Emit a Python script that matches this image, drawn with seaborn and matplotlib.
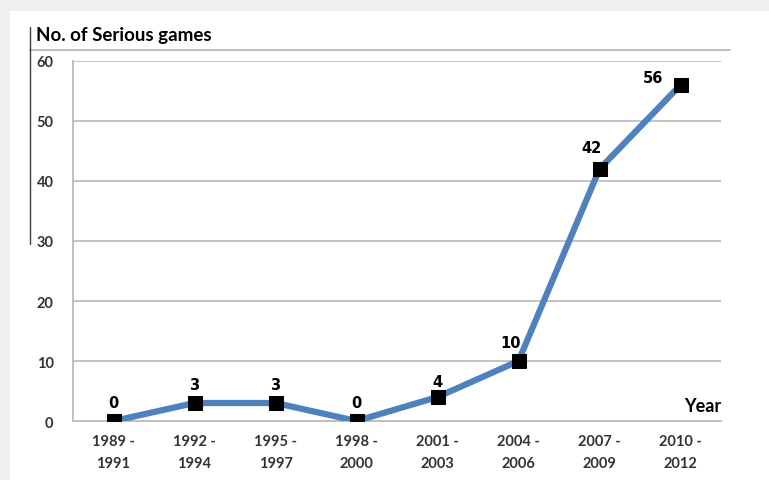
import numpy as np
import pandas as pd
import seaborn as sns
import matplotlib.pyplot as plt
from matplotlib.patches import Rectangle

# Data
periods = ["1989 -\n1991", "1992 -\n1994", "1995 -\n1997", "1998 -\n2000",
           "2001 -\n2003", "2004 -\n2006", "2007 -\n2009", "2010 -\n2012"]
games = [0, 3, 3, 0, 4, 10, 42, 56]
y_ticks = [0, 10, 20, 30, 40, 50, 60]

df = pd.DataFrame({"pos": np.arange(len(periods)), "games": games})

sns.set_theme(style="white")
plt.rcParams["font.family"] = ["Lato", "DejaVu Sans"]

fig = plt.figure(figsize=(7.69, 4.81), dpi=100, facecolor="#efefef")
# white card inside the grey screenshot frame
fig.patches.append(Rectangle((10 / 769, 0), 1, 1 - 12 / 481, transform=fig.transFigure,
                             facecolor="white", edgecolor="none", zorder=-5))

ax = fig.add_axes([73 / 769, 1 - 422 / 481, (721 - 73) / 769, (422 - 62) / 481])
ax.set_facecolor("none")

sns.lineplot(data=df, x="pos", y="games", ax=ax, color="#4F81BD", linewidth=4.5,
             marker="s", markersize=10, markerfacecolor="black", markeredgecolor="black",
             zorder=3)

# data labels
label_offsets = [(0, 8), (0, 8), (0, 8), (0, 8), (0, 6), (-6, 8), (-6, 10), (-20, 0)]
for (x, y), off in zip(zip(df["pos"], df["games"]), label_offsets):
    ax.annotate(str(y), (x, y), xytext=off, textcoords="offset points",
                ha="center", va="bottom", fontsize=10.5, fontweight="bold",
                family="DejaVu Sans", color="black")

ax.set_xlim(-0.5, len(periods) - 0.5)
ax.set_ylim(0, 60)
ax.set_yticks(y_ticks)
ax.set_yticklabels([str(v) for v in y_ticks], fontsize=10.5, fontweight="bold", color="#333333")
ax.set_xticks(df["pos"])
ax.set_xticklabels(periods, fontsize=10.5, fontweight="bold", color="#333333", linespacing=1.75)
ax.set_xticks(np.arange(-0.5, len(periods)), minor=True)
ax.tick_params(axis="x", which="major", length=0, pad=9)
ax.tick_params(axis="x", which="minor", length=5, width=1.3, color="#bfbfbf", direction="out")
ax.tick_params(axis="y", length=6, width=1.3, color="#bfbfbf", direction="out", pad=8)

ax.grid(axis="y", color="#c4c4c4", linewidth=1.4)
ax.set_axisbelow(True)
for side in ["top", "right"]:
    ax.spines[side].set_visible(False)
for side in ["left", "bottom"]:
    ax.spines[side].set_color("#bfbfbf")
    ax.spines[side].set_linewidth(1.4)

ax.set_xlabel("")
ax.set_ylabel("")
ax.text(1.0, 0.02, "Year", transform=ax.transAxes, ha="right", va="bottom",
        fontsize=13, fontweight="bold", color="black")

# title and frame lines
fig.text(36 / 769, 1 - 36 / 481, "No. of Serious games", ha="left", va="center",
         fontsize=13.5, fontweight="bold", color="black")
fig.add_artist(plt.Line2D([30 / 769, 730 / 769], [1 - 51 / 481, 1 - 51 / 481],
                          transform=fig.transFigure, color="#bfbfbf", linewidth=1.4))
fig.add_artist(plt.Line2D([30 / 769, 30 / 769], [1 - 28 / 481, 1 - 245 / 481],
                          transform=fig.transFigure, color="#404040", linewidth=1.0))

fig.savefig("out.png", dpi=100, facecolor=fig.get_facecolor())
